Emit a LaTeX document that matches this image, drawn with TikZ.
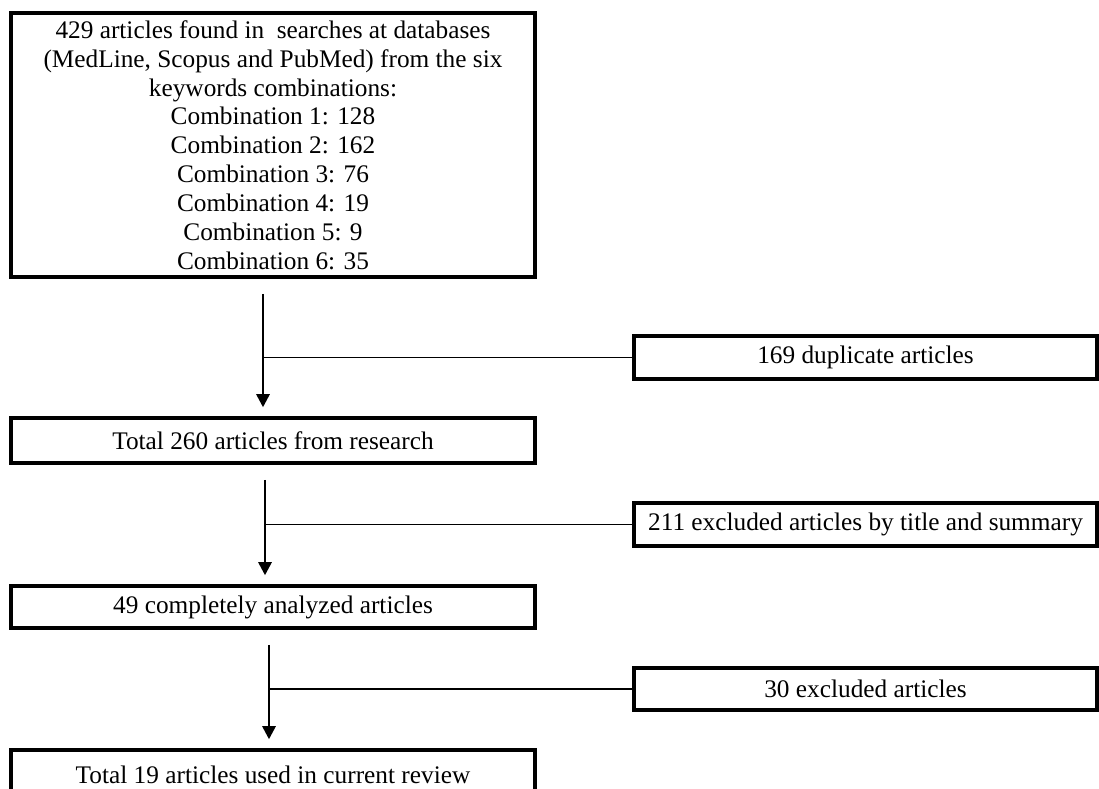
\documentclass[tikz,border=0pt]{standalone}
\usepackage{fontspec}
\setmainfont{Liberation Serif}
\usetikzlibrary{arrows.meta}

\begin{document}
\begin{tikzpicture}[
  box/.style={draw, line width=2.1pt, inner sep=0pt, align=center, font=\fontsize{14.4}{16.4}\selectfont},
  mainbox/.style={box, minimum width=10.48cm},
  sidebox/.style={box, minimum width=9.26cm},
  flow/.style={line width=0.8pt, -{Triangle[width=0.27cm,length=0.26cm]}, shorten <=0.3cm, shorten >=0.18cm},
  branch/.style={line width=0.65pt}
]
\clip (0,0) rectangle (21.98,15.76);

\node[mainbox, minimum height=5.28cm] (search) at (5.46, 12.86) {429 articles found in\ \ searches at databases\\ (MedLine, Scopus and PubMed) from the six\\ keywords combinations:\\ Combination 1: 128\\ Combination 2: 162\\ Combination 3: 76\\ Combination 4: 19\\ Combination 5: 9\\ Combination 6: 35};
\node[mainbox, minimum height=0.9cm] (total) at (5.46, 6.95) {Total 260 articles from research};
\node[mainbox, minimum height=0.84cm] (analyzed) at (5.46, 3.62) {49 completely analyzed articles};
\node[mainbox, minimum height=1.0cm] (review) at (5.46, 0.26) {Total 19 articles used in current review};

\node[sidebox, minimum height=0.86cm] (dup) at (17.31, 8.61) {169 duplicate articles};
\node[sidebox, minimum height=0.86cm] (bytitle) at (17.31, 5.27) {211 excluded articles by title and summary};
\node[sidebox, minimum height=0.84cm] (excluded) at (17.31, 1.98) {30 excluded articles};

\coordinate (j1) at ([xshift=-0.2cm]search.south);
\coordinate (j2) at ([xshift=-0.16cm]total.south);
\coordinate (j3) at ([xshift=-0.08cm]analyzed.south);

\draw[flow] (j1) -- (j1 |- total.north);
\draw[flow] (j2) -- (j2 |- analyzed.north);
\draw[flow] (j3) -- (j3 |- review.north);

\draw[branch] (dup.west) -- (dup.west -| j1);
\draw[branch] (bytitle.west) -- (bytitle.west -| j2);
\draw[branch] (excluded.west) -- (excluded.west -| j3);
\end{tikzpicture}
\end{document}
